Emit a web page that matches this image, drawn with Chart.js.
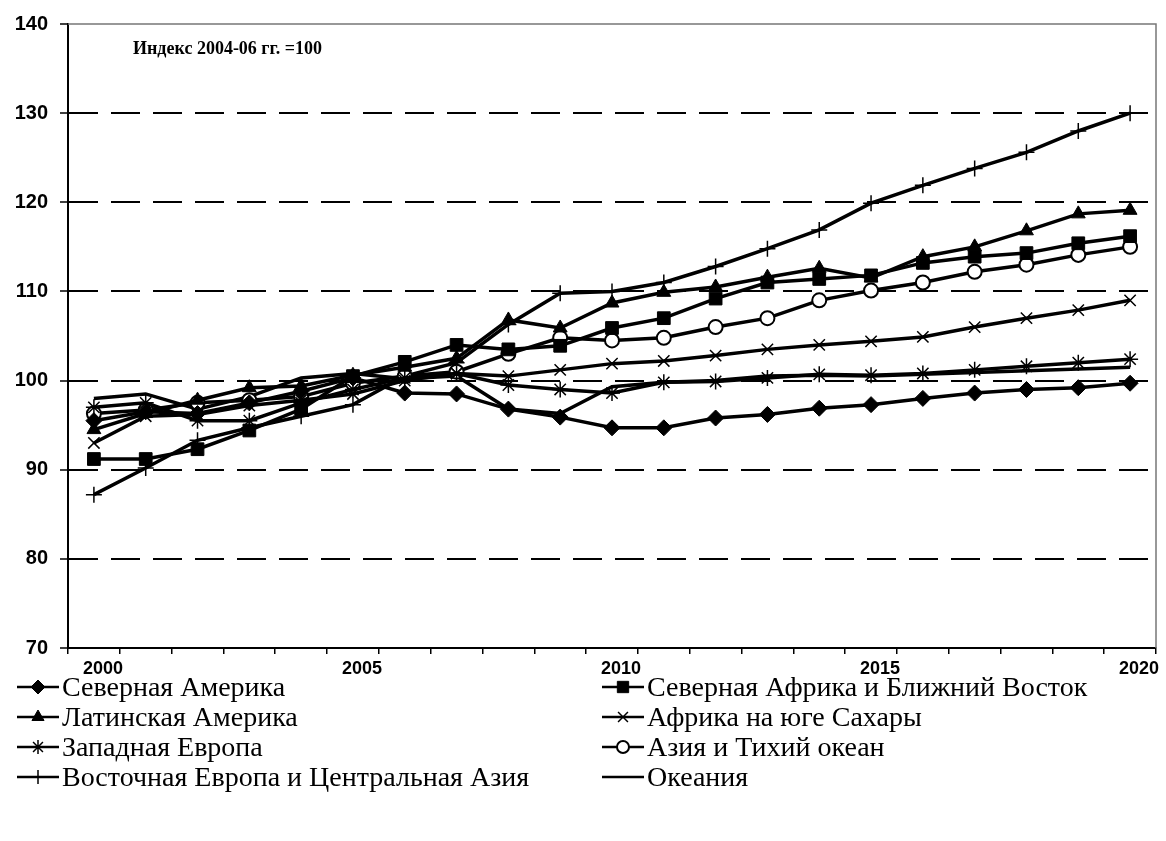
<!DOCTYPE html>
<html><head><meta charset="utf-8">
<script src="https://cdn.jsdelivr.net/npm/chart.js@4.4.1/dist/chart.umd.min.js"></script>
<style>
html,body{margin:0;padding:0;background:#fff;}
#wrap{position:relative;width:1166px;height:841px;overflow:hidden;}
#cw{position:absolute;left:0;top:0;width:1166px;height:688px;}
#note{position:absolute;left:133px;top:38px;font:bold 18px "Liberation Serif",serif;color:#000;white-space:nowrap;}
.leg{position:absolute;height:30px;display:flex;align-items:center;font:28px "Liberation Serif",serif;color:#000;white-space:nowrap;}
.leg canvas{margin-right:2px;}
</style></head><body>
<div id="wrap">
<div id="cw"><canvas id="c"></canvas></div>
<div id="note">Индекс 2004-06 гг. =100</div>
<div id="legend"></div>
</div>
<script>
const years = ['2000','2001','2002','2003','2004','2005','2006','2007','2008','2009','2010',
               '2011','2012','2013','2014','2015','2016','2017','2018','2019','2020'];
const shownYears = ['2000','2005','2010','2015','2020'];
const yTicks = [70, 80, 90, 100, 110, 120, 130, 140];

const northAmerica   = [95.5, 96.5, 96.3, 97.5, 98.8, 100.3, 98.6, 98.5, 96.8, 95.9, 94.7, 94.7, 95.8, 96.2, 96.9, 97.3, 98.0, 98.6, 99.0, 99.2, 99.7];
const northAfricaME  = [91.2, 91.2, 92.3, 94.4, 96.8, 100.5, 102.1, 104.0, 103.5, 103.9, 105.9, 107.0, 109.2, 111.0, 111.4, 111.8, 113.2, 113.9, 114.3, 115.4, 116.2];
const latinAmerica   = [94.5, 96.3, 97.8, 99.2, 99.4, 100.6, 101.5, 102.5, 106.8, 105.9, 108.7, 109.9, 110.5, 111.6, 112.6, 111.5, 113.9, 115.0, 116.8, 118.7, 119.1];
const subSaharan     = [93.0, 96.0, 96.2, 97.2, 97.8, 98.5, 100.0, 100.8, 100.5, 101.2, 101.9, 102.2, 102.8, 103.5, 104.0, 104.4, 104.9, 106.0, 107.0, 107.9, 109.0];
const westernEurope  = [97.0, 97.5, 95.5, 95.5, 97.5, 99.0, 100.3, 100.8, 99.5, 99.0, 98.6, 99.8, 99.9, 100.3, 100.7, 100.6, 100.8, 101.2, 101.6, 102.0, 102.4];
const asiaPacific    = [96.3, 96.7, 97.5, 97.8, 98.2, 99.7, 100.5, 101.0, 103.0, 104.8, 104.5, 104.8, 106.0, 107.0, 109.0, 110.1, 111.0, 112.2, 113.0, 114.1, 115.0];
const eastEuropeCA   = [87.2, 90.2, 93.3, 94.7, 96.0, 97.3, 100.5, 102.0, 106.3, 109.8, 110.0, 111.0, 112.8, 114.8, 116.9, 119.9, 121.9, 123.8, 125.6, 128.0, 130.0];
const oceania        = [98.0, 98.5, 96.8, 98.2, 100.3, 100.8, 100.2, 100.5, 96.8, 96.3, 99.3, 99.8, 100.0, 100.5, 100.6, 100.5, 100.7, 100.9, 101.1, 101.3, 101.5];

const seriesNames = ['Северная Америка','Северная Африка и Ближний Восток','Латинская Америка',
  'Африка на юге Сахары','Западная Европа','Азия и Тихий океан',
  'Восточная Европа и Центральная Азия','Океания'];
const seriesData = [northAmerica, northAfricaME, latinAmerica, subSaharan, westernEurope, asiaPacific, eastEuropeCA, oceania];
const styles = [
  {ps:'rectRot', r:8, bg:'#000', bw:1},
  {ps:'rect', r:9, bg:'#000', bw:1},
  {ps:'triangle', r:8, bg:'#000', bw:1},
  {ps:'crossRot', r:8, bg:'#000', bw:1.5},
  {ps:'star', r:8, bg:'#000', bw:1.5},
  {ps:'circle', r:7, bg:'#fff', bw:2},
  {ps:'cross', r:8, bg:'#000', bw:1.5},
  {ps:'circle', r:0, bg:'#000', bw:0}
];

const datasets = seriesNames.map((n, i) => ({
  label: n,
  data: seriesData[i],
  borderColor: '#000',
  borderWidth: 3.5,
  tension: 0,
  pointStyle: styles[i].ps,
  pointRadius: styles[i].r,
  pointHoverRadius: styles[i].r,
  pointBackgroundColor: styles[i].bg,
  pointBorderColor: '#000',
  pointBorderWidth: styles[i].bw,
  fill: false
}));

const frame = {
  id: 'frame',
  beforeDatasetsDraw(chart) {
    const {ctx, chartArea: a} = chart;
    ctx.save();
    ctx.strokeStyle = '#777';
    ctx.lineWidth = 1.5;
    ctx.beginPath();
    ctx.moveTo(a.left, a.top);
    ctx.lineTo(a.right, a.top);
    ctx.lineTo(a.right, a.bottom);
    ctx.stroke();
    ctx.restore();
  }
};

new Chart(document.getElementById('c'), {
  type: 'line',
  data: { labels: years, datasets },
  plugins: [frame],
  options: {
    responsive: true,
    maintainAspectRatio: false,
    animation: false,
    layout: { padding: { left: 0, right: 6, top: 14, bottom: 0 } },
    plugins: { legend: { display: false }, tooltip: { enabled: false } },
    scales: {
      x: {
        type: 'category',
        offset: true,
        grid: { offset: true, drawOnChartArea: false, drawTicks: true, tickLength: 6, color: '#000', lineWidth: 1.5 },
        border: { display: true, color: '#000', width: 2 },
        ticks: {
          autoSkip: false, maxRotation: 0, minRotation: 0, padding: 4, color: '#000', labelOffset: 9,
          font: { family: '"Liberation Sans", Arial, sans-serif', size: 18, weight: 'bold' },
          callback: function(v) { const l = this.getLabelForValue(v); return shownYears.includes(l) ? l : ''; }
        },
        afterFit(s) { s.height = 40; }
      },
      y: {
        min: 70, max: 140,
        afterBuildTicks(s) { s.ticks = yTicks.map(v => ({value: v})); },
        grid: {
          drawTicks: true, tickLength: 8,
          color: (c) => (c.tick && (c.tick.value === 70 || c.tick.value === 140)) ? 'rgba(0,0,0,0)' : '#000',
          tickColor: '#000', lineWidth: 2, tickWidth: 1.5
        },
        border: { display: true, color: '#000', width: 2,
          dash: (c) => (c.type === 'tick') ? [29, 13] : [] },
        ticks: {
          padding: 12, color: '#000',
          font: { family: '"Liberation Sans", Arial, sans-serif', size: 20, weight: 'bold' }
        },
        afterFit(s) { s.width = 68; }
      }
    }
  }
});

// legend (HTML): two columns, row-wise order as in the original
const legEl = document.getElementById('legend');
seriesNames.forEach((name, si) => {
  const row = Math.floor(si / 2), col = si % 2;
  const d = document.createElement('div');
  d.className = 'leg';
  d.style.left = (col === 0 ? 16 : 601) + 'px';
  d.style.top = (672 + row * 30) + 'px';
  const cv = document.createElement('canvas');
  cv.width = 44; cv.height = 20;
  d.appendChild(cv);
  const ctx = cv.getContext('2d');
  ctx.strokeStyle = '#000';
  ctx.lineWidth = 2.5;
  ctx.beginPath(); ctx.moveTo(1, 10); ctx.lineTo(43, 10); ctx.stroke();
  if (styles[si].r > 0) {
    ctx.fillStyle = styles[si].bg; ctx.strokeStyle = '#000'; ctx.lineWidth = styles[si].bw;
    Chart.helpers.drawPoint(ctx, {pointStyle: styles[si].ps, radius: styles[si].r - 1, borderWidth: styles[si].bw}, 22, 10);
  }
  const t = document.createElement('span');
  t.textContent = name;
  d.appendChild(t);
  legEl.appendChild(d);
});
</script>
</body></html>
